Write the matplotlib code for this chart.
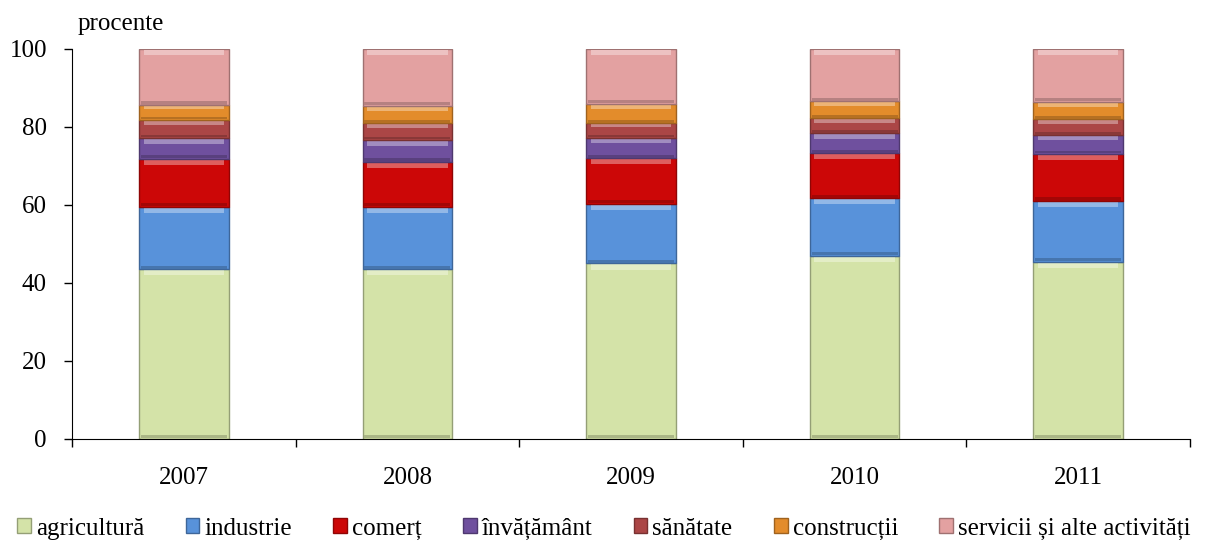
import numpy as np
import matplotlib.pyplot as plt
from matplotlib.patches import Patch
from matplotlib.colors import to_rgb

# structura populației ocupate, procente
ani = ["2007", "2008", "2009", "2010", "2011"]
agricultura = [43.5, 43.5, 45.0, 47.0, 45.5]
industrie = [16.0, 16.0, 15.3, 14.7, 15.5]
comert = [12.3, 11.5, 11.7, 11.6, 12.1]
invatamant = [5.4, 5.7, 5.2, 5.1, 4.8]
sanatate = [4.6, 4.3, 3.8, 3.8, 4.1]
constructii = [3.8, 4.4, 4.9, 4.4, 4.4]
servicii = [14.4, 14.6, 14.1, 13.4, 13.6]

etichete = ["agricultură", "industrie", "comerț", "învățământ",
            "sănătate", "construcții", "servicii și alte activități"]
culori = ["#d4e3a8", "#5892da", "#cc0707", "#6f509e",
          "#ab4646", "#e38c2b", "#e3a1a1"]


def amesteca(c, alt, f):
    c = np.array(to_rgb(c))
    return tuple(c * (1 - f) + np.array(alt) * f)


plt.rcParams["font.family"] = ["Liberation Serif", "DejaVu Serif"]

fig = plt.figure(figsize=(12.08, 5.45), dpi=100)
ax = fig.add_axes([0.0596, 0.1945, 0.9255, 0.7156])

serii = [agricultura, industrie, comert, invatamant, sanatate, constructii, servicii]
x = np.arange(len(ani))
latime = 0.4
baza = np.zeros(len(ani))
for vals, c in zip(serii, culori):
    vals = np.array(vals)
    ax.bar(x, vals, latime, bottom=baza, color=c,
           edgecolor=amesteca(c, (0, 0, 0), 0.3), linewidth=1.0)
    # efect de relief: bandă luminoasă sus, bandă întunecată jos
    h = np.minimum(vals * 0.22, 1.3)
    ax.bar(x, h, latime * 0.9, bottom=baza + vals - h - 0.25,
           color=amesteca(c, (1, 1, 1), 0.35), linewidth=0)
    hj = np.minimum(vals * 0.15, 0.8)
    ax.bar(x, hj, latime * 0.96, bottom=baza + 0.15,
           color=amesteca(c, (0, 0, 0), 0.2), linewidth=0)
    baza += vals

ax.set_xlim(-0.5, len(ani) - 0.5)
ax.set_ylim(0, 100)
ax.set_yticks([0, 20, 40, 60, 80, 100])
ax.tick_params(axis="y", labelsize=18, direction="out", length=6, width=1, pad=12)
ax.set_xticks(x)
ax.set_xticklabels(ani)
ax.set_xticks(np.arange(-0.5, len(ani)), minor=True)
ax.tick_params(axis="x", which="major", length=0, labelsize=18, pad=20)
ax.tick_params(axis="x", which="minor", length=6, width=1, direction="out")
for s in ["top", "right"]:
    ax.spines[s].set_visible(False)

ax.text(0.005, 1.035, "procente", transform=ax.transAxes, fontsize=18,
        ha="left", va="bottom")

handles = [Patch(facecolor=c, edgecolor=amesteca(c, (0, 0, 0), 0.3)) for c in culori]
fig.legend(handles, etichete, loc="center", bbox_to_anchor=(0.5, 0.03),
           ncol=7, frameon=False, fontsize=18, handlelength=0.55, handleheight=0.55,
           handletextpad=0.2, columnspacing=1.65, borderpad=0, borderaxespad=0)

fig.savefig("out.png", dpi=100)
